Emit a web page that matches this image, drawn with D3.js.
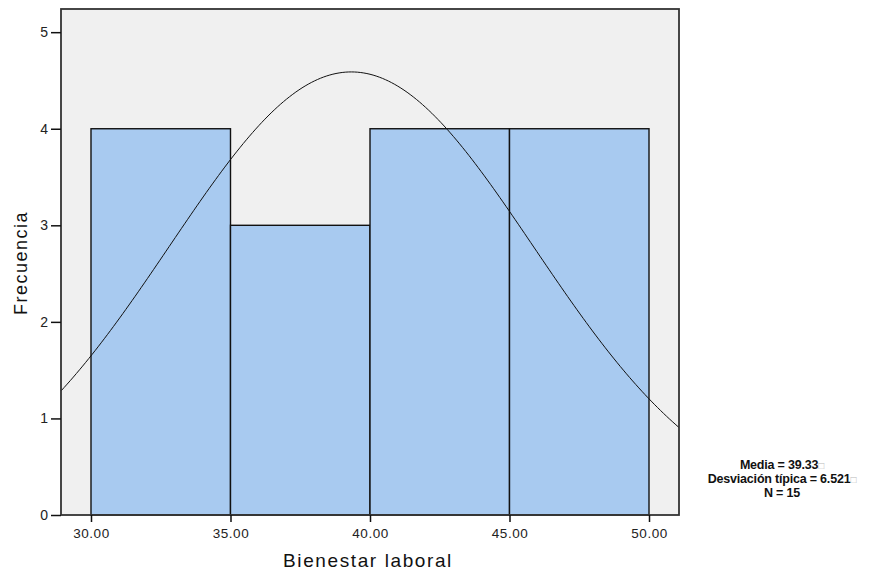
<!DOCTYPE html>
<html><head><meta charset="utf-8">
<script src="https://cdn.jsdelivr.net/npm/d3@7"></script>
<style>body{margin:0;background:#fff;} svg{display:block;}</style>
</head><body>
<svg id="c" width="895" height="573"></svg>
<script>
const binEdges = [30, 35, 40, 45, 50];
const counts = [4, 3, 4, 4];
const xTicks = [30, 35, 40, 45, 50];
const yTicks = [0, 1, 2, 3, 4, 5];
const stats = {mean: 39.33, sd: 6.521, n: 15};
const legendLines = ["Media = 39.33", "Desviación típica = 6.521", "N = 15"];

const svg = d3.select("#c");
const L = 61, T = 9, R = 679, B = 515;
const x = d3.scaleLinear().domain([28.925, 51.075]).range([L, R]);
const y = d3.scaleLinear().domain([0, 5.24]).range([B, T]);

svg.append("rect").attr("x", L).attr("y", T).attr("width", R - L).attr("height", B - T)
  .attr("fill", "#f0f0f0");

const bins = counts.map((c, i) => ({x0: binEdges[i], x1: binEdges[i + 1], c}));
svg.append("g").selectAll("rect").data(bins).join("rect")
  .attr("x", d => x(d.x0)).attr("y", d => y(d.c))
  .attr("width", d => x(d.x1) - x(d.x0)).attr("height", d => y(0) - y(d.c))
  .attr("fill", "#a8caf0").attr("stroke", "#111").attr("stroke-width", 1.4);

// normal curve from summary statistics
const bw = binEdges[1] - binEdges[0];
const pdf = v => stats.n * bw / (stats.sd * Math.sqrt(2 * Math.PI)) * Math.exp(-0.5 * ((v - stats.mean) / stats.sd) ** 2);
const xs = d3.range(0, 201).map(i => 28.925 + (51.075 - 28.925) * i / 200);
svg.append("path").datum(xs)
  .attr("d", d3.line().x(v => x(v)).y(v => y(pdf(v))))
  .attr("fill", "none").attr("stroke", "#111").attr("stroke-width", 1);

svg.append("rect").attr("x", L).attr("y", T).attr("width", R - L).attr("height", B - T)
  .attr("fill", "none").attr("stroke", "#333").attr("stroke-width", 1.8);

const font = "'Liberation Sans', Arial, sans-serif";
const yAxis = svg.append("g").attr("transform", `translate(${L},0)`)
  .call(d3.axisLeft(y).tickValues(yTicks).tickFormat(d3.format("d")).tickSize(10).tickPadding(3));
yAxis.select(".domain").remove();
yAxis.selectAll("line").attr("stroke", "#111").attr("stroke-width", 1.5);
yAxis.selectAll("text").attr("font-family", font).attr("font-size", 14).attr("fill", "#222");

const xAxis = svg.append("g").attr("transform", `translate(0,${B})`)
  .call(d3.axisBottom(x).tickValues(xTicks).tickFormat(d3.format(".2f")).tickSize(7).tickPadding(6));
xAxis.select(".domain").remove();
xAxis.selectAll("line").attr("stroke", "#111").attr("stroke-width", 1.5);
xAxis.selectAll("text").attr("font-family", font).attr("font-size", 13.5).attr("fill", "#222").attr("letter-spacing", "0.5");

svg.append("text").attr("x", 368).attr("y", 567).attr("text-anchor", "middle")
  .attr("font-family", font).attr("font-size", 19).attr("letter-spacing", "1.6").attr("fill", "#111").text("Bienestar laboral");
svg.append("text").attr("transform", "translate(27,263) rotate(-90)").attr("text-anchor", "middle")
  .attr("font-family", font).attr("font-size", 18).attr("letter-spacing", "1.5").attr("fill", "#111").text("Frecuencia");

const lg = svg.append("g").selectAll("text").data(legendLines).join("text")
  .attr("x", 782).attr("y", (d, i) => 469 + i * 14).attr("text-anchor", "middle")
  .attr("font-family", font).attr("font-size", 12.5).attr("font-weight", "bold").attr("fill", "#111")
  .attr("letter-spacing", "-0.2");
lg.append("tspan").text(d => d);
lg.filter((d, i) => i < 2).append("tspan").attr("fill", "#bbb").attr("font-weight", "normal").attr("font-size", 10).text("□");
</script>
</body></html>
